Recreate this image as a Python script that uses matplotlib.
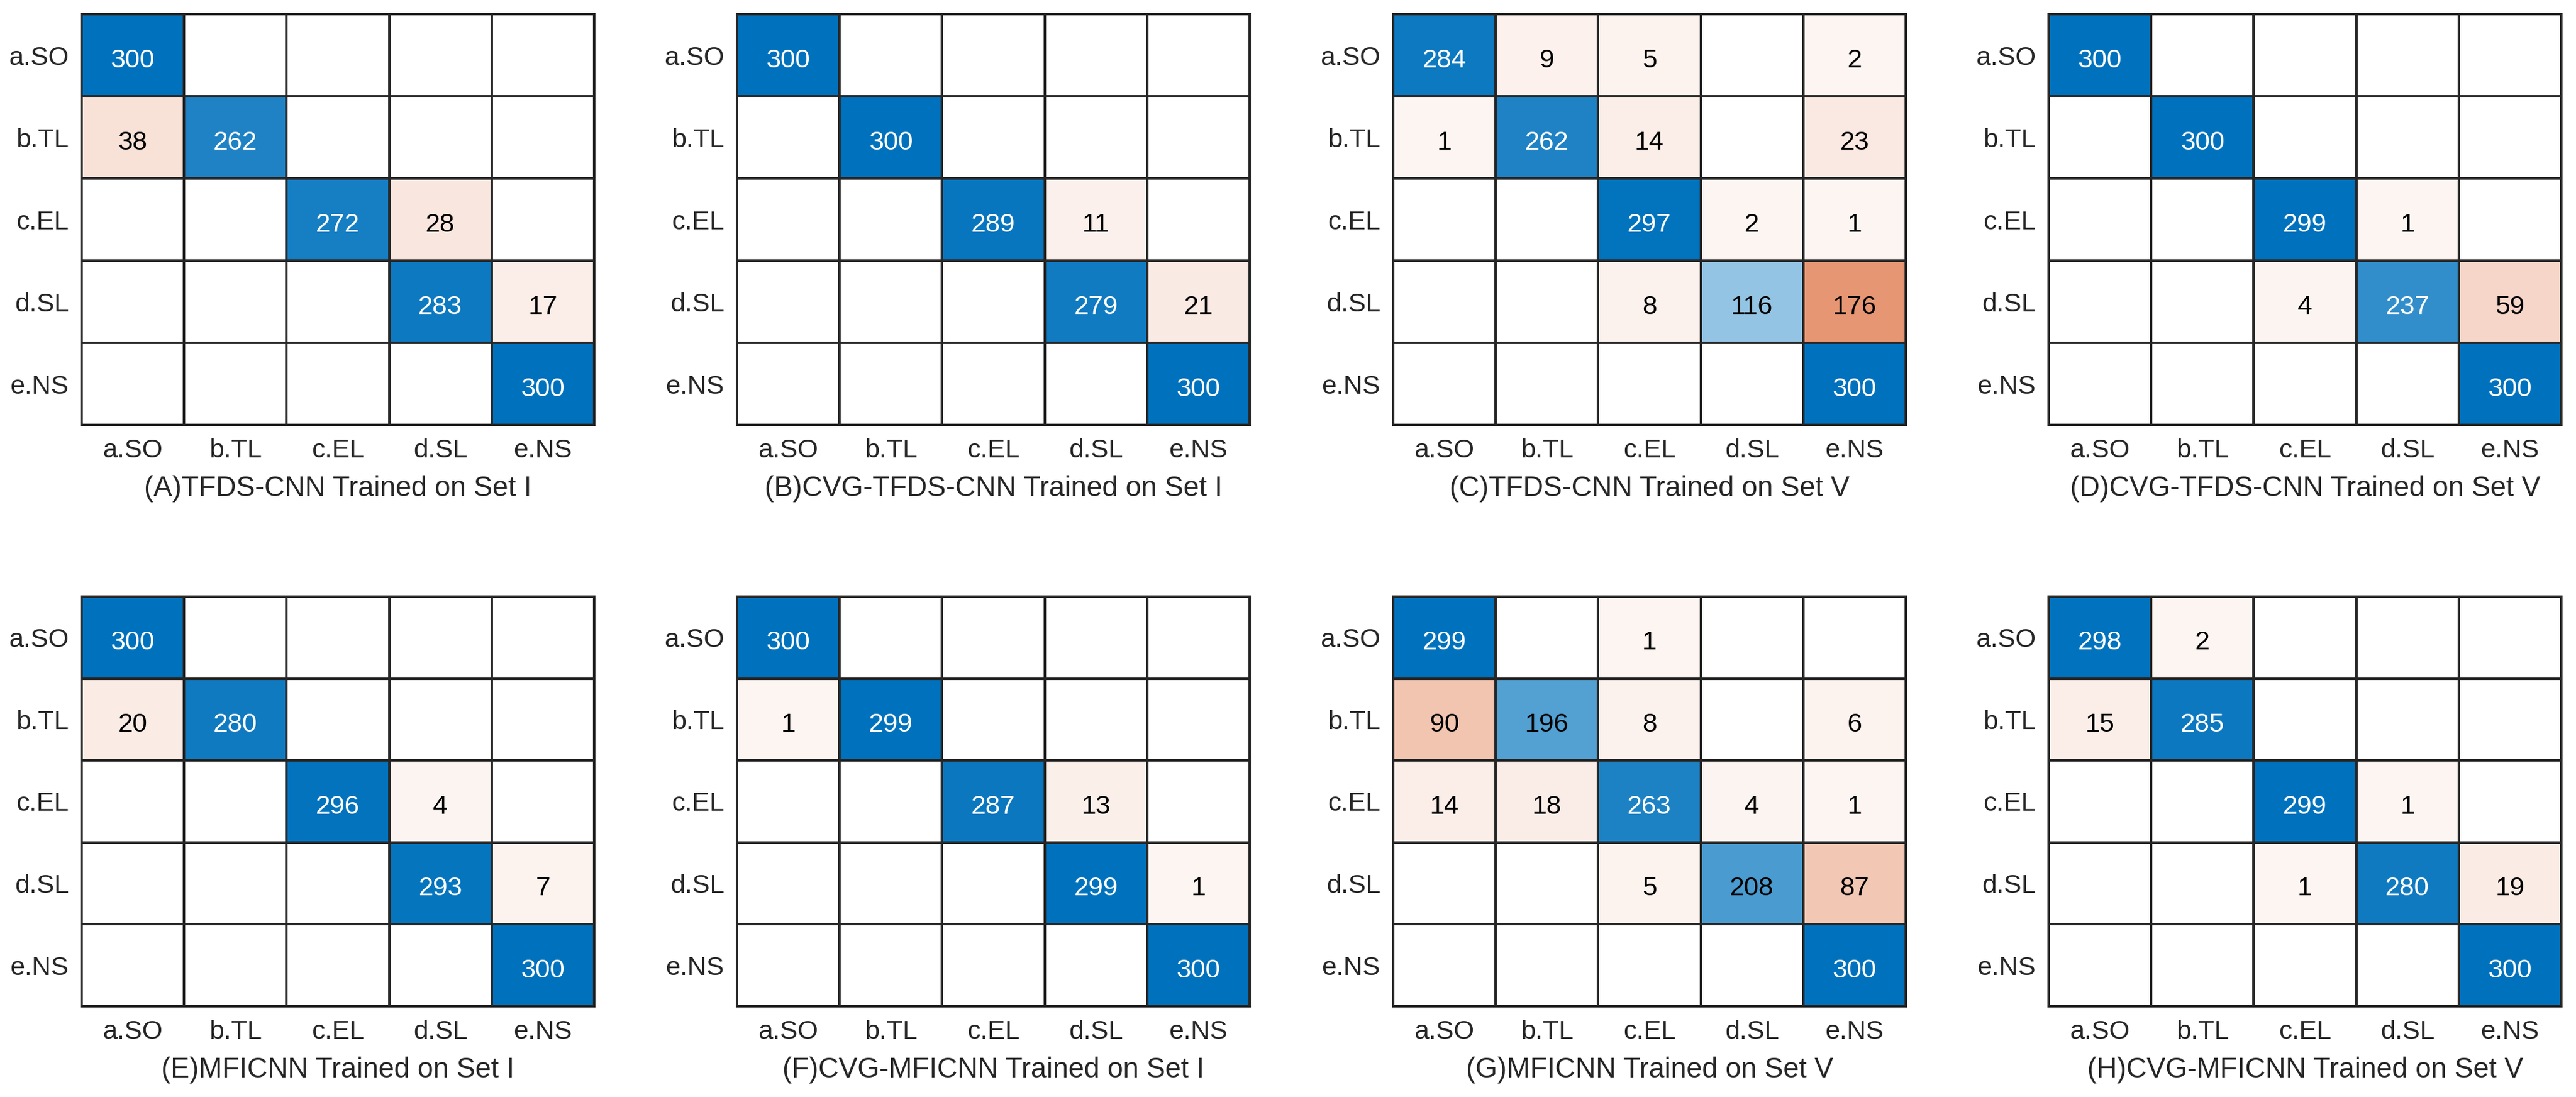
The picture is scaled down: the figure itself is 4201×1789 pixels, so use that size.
import numpy as np
import matplotlib
matplotlib.use("Agg")
import matplotlib.pyplot as plt

classes = ["a.SO", "b.TL", "c.EL", "d.SL", "e.NS"]

titles = [
    "(A)TFDS-CNN Trained on Set I",
    "(B)CVG-TFDS-CNN Trained on Set I",
    "(C)TFDS-CNN Trained on Set V",
    "(D)CVG-TFDS-CNN Trained on Set V",
    "(E)MFICNN Trained on Set I",
    "(F)CVG-MFICNN Trained on Set I",
    "(G)MFICNN Trained on Set V",
    "(H)CVG-MFICNN Trained on Set V",
]

cm_A = [[300, 0, 0, 0, 0],
        [38, 262, 0, 0, 0],
        [0, 0, 272, 28, 0],
        [0, 0, 0, 283, 17],
        [0, 0, 0, 0, 300]]
cm_B = [[300, 0, 0, 0, 0],
        [0, 300, 0, 0, 0],
        [0, 0, 289, 11, 0],
        [0, 0, 0, 279, 21],
        [0, 0, 0, 0, 300]]
cm_C = [[284, 9, 5, 0, 2],
        [1, 262, 14, 0, 23],
        [0, 0, 297, 2, 1],
        [0, 0, 8, 116, 176],
        [0, 0, 0, 0, 300]]
cm_D = [[300, 0, 0, 0, 0],
        [0, 300, 0, 0, 0],
        [0, 0, 299, 1, 0],
        [0, 0, 4, 237, 59],
        [0, 0, 0, 0, 300]]
cm_E = [[300, 0, 0, 0, 0],
        [20, 280, 0, 0, 0],
        [0, 0, 296, 4, 0],
        [0, 0, 0, 293, 7],
        [0, 0, 0, 0, 300]]
cm_F = [[300, 0, 0, 0, 0],
        [1, 299, 0, 0, 0],
        [0, 0, 287, 13, 0],
        [0, 0, 0, 299, 1],
        [0, 0, 0, 0, 300]]
cm_G = [[299, 0, 1, 0, 0],
        [90, 196, 8, 0, 6],
        [14, 18, 263, 4, 1],
        [0, 0, 5, 208, 87],
        [0, 0, 0, 0, 300]]
cm_H = [[298, 2, 0, 0, 0],
        [15, 285, 0, 0, 0],
        [0, 0, 299, 1, 0],
        [0, 0, 1, 280, 19],
        [0, 0, 0, 0, 300]]

matrices = [cm_A, cm_B, cm_C, cm_D, cm_E, cm_F, cm_G, cm_H]

DIAG = np.array([0, 114, 189]) / 255.0
OFF = np.array([217, 83, 25]) / 255.0
EDGE = "#262626"
FONT = ["Liberation Sans", "DejaVu Sans"]

plt.rcParams["font.family"] = FONT

W, H = 4201, 1789
fig = plt.figure(figsize=(W / 100, H / 100), dpi=100)
fig.patch.set_facecolor("white")

lefts = [133, 1202, 2272, 3341]
row_tops = [23, 973]
row_bottoms = [693, 1641]
ax_w = 836


def cell_frac(v, vmax):
    if v <= 0:
        return 0.0
    return 0.05 + 0.95 * v / vmax


for k, (cm, title) in enumerate(zip(matrices, titles)):
    cm = np.array(cm, dtype=float)
    r, c = divmod(k, 4)
    top, bot = row_tops[r], row_bottoms[r]
    ax = fig.add_axes([lefts[c] / W, 1 - bot / H, ax_w / W, (bot - top) / H])
    n = cm.shape[0]
    vmax = cm.max()
    rgb = np.ones((n, n, 3))
    for i in range(n):
        for j in range(n):
            f = cell_frac(cm[i, j], vmax)
            base = DIAG if i == j else OFF
            rgb[i, j] = (1 - f) * np.ones(3) + f * base
            if cm[i, j] > 0:
                ax.text(j, i + 0.03, f"{int(cm[i, j])}", ha="center",
                        va="center_baseline", fontsize=31,
                        color="white" if f > 0.74 else "black")
    ax.imshow(rgb, aspect="auto", interpolation="nearest",
              extent=(-0.5, n - 0.5, n - 0.5, -0.5))
    for b in np.arange(0.5, n - 0.5, 1):
        ax.axhline(b, color=EDGE, lw=2.9)
        ax.axvline(b, color=EDGE, lw=2.9)
    for s in ax.spines.values():
        s.set_color(EDGE)
        s.set_linewidth(2.9)
    ax.set_xlim(-0.5, n - 0.5)
    ax.set_ylim(n - 0.5, -0.5)
    ax.set_xticks(range(n))
    ax.set_yticks(range(n))
    ax.set_xticklabels(classes)
    ax.set_yticklabels(classes)
    ax.tick_params(length=0, labelsize=31, colors=EDGE, pad=16)
    ax.tick_params(axis="y", pad=15)
    hh = bot - top
    ax.text(0.5, -(797 - 693) / hh, title, transform=ax.transAxes,
            ha="center", va="center", fontsize=33, color=EDGE)

fig.savefig("out.png", dpi=100, facecolor="white")
